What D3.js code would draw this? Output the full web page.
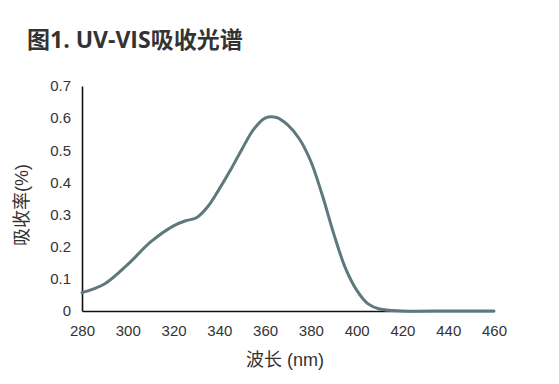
<!DOCTYPE html>
<html lang="zh">
<head>
<meta charset="utf-8">
<title>UV-VIS吸收光谱</title>
<script src="https://d3js.org/d3.v7.min.js"></script>
<style>
  body { margin: 0; background: #fff; }
  text { font-family: "Liberation Sans", "Noto Sans CJK SC", sans-serif; fill: #333; }
</style>
</head>
<body>
<script>
// data
const wavelength = [280, 290, 300, 310, 320, 325, 330, 335, 340, 345, 350, 355, 360, 365, 370, 375, 380, 385, 390, 395, 400, 405, 410, 420, 440, 460];
const absorb = [0.057, 0.085, 0.145, 0.215, 0.265, 0.28, 0.29, 0.325, 0.38, 0.44, 0.505, 0.565, 0.6, 0.602, 0.578, 0.535, 0.465, 0.36, 0.24, 0.135, 0.065, 0.022, 0.006, 0, 0, 0];
const xTicks = [280, 300, 320, 340, 360, 380, 400, 420, 440, 460];
const yTicks = [0, 0.1, 0.2, 0.3, 0.4, 0.5, 0.6, 0.7];

const width = 559, height = 384;
const svg = d3.select("body").append("svg")
  .attr("width", width).attr("height", height);

const x = d3.scaleLinear().domain([280, 460]).range([82, 494]);
const y = d3.scaleLinear().domain([0, 0.7]).range([311, 86]);

// title
svg.append("text")
  .attr("x", 27).attr("y", 48)
  .style("font-family", "'Open Sans', 'Noto Sans CJK SC', sans-serif")
  .style("font-size", "23px").style("font-weight", "bold")
  .attr("fill", "#2a2a2a")
  .text("图1. UV-VIS吸收光谱");

// axes
const xAxis = svg.append("g").attr("transform", "translate(0,311)")
  .call(d3.axisBottom(x).tickValues(xTicks).tickSize(0).tickPadding(14).tickFormat(d3.format("d")));
const yAxis = svg.append("g").attr("transform", "translate(82,0)")
  .call(d3.axisLeft(y).tickValues(yTicks).tickSize(0).tickPadding(11).tickFormat(d => d === 0 ? "0" : d3.format(".1f")(d)));

xAxis.select(".domain").attr("stroke", "#111").attr("stroke-width", 1.6);
yAxis.select(".domain").attr("stroke", "#111").attr("stroke-width", 1.6);
svg.selectAll(".tick text").style("font-size", "15px").attr("fill", "#333")
  .style("font-family", "'Liberation Sans', sans-serif");

// axis labels
svg.append("text")
  .attr("x", 285).attr("y", 366)
  .attr("text-anchor", "middle")
  .style("font-size", "18px")
  .text("波长 (nm)");

svg.append("text")
  .attr("transform", "translate(28,205) rotate(-90)")
  .attr("text-anchor", "middle")
  .style("font-size", "18px")
  .text("吸收率(%)");

// spectrum
const line = d3.line()
  .x((d, i) => x(wavelength[i]))
  .y(d => y(d))
  .curve(d3.curveCatmullRom.alpha(0.5));

svg.append("path")
  .datum(absorb)
  .attr("d", line)
  .attr("fill", "none")
  .attr("stroke", "#5e797c")
  .attr("stroke-width", 3)
  .attr("stroke-linecap", "round");
</script>
</body>
</html>
